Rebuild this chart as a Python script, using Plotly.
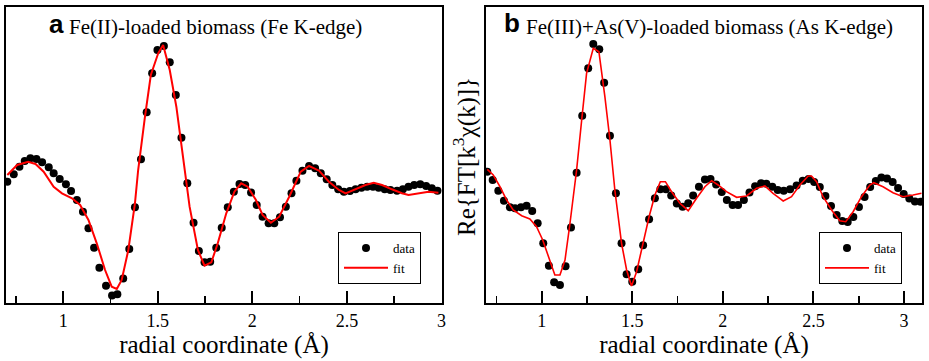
import plotly.graph_objects as go

# ---------------- Panel a: Fe(II)-loaded biomass (Fe K-edge) ----------------
a_data_r = [0.704, 0.738, 0.768, 0.796, 0.826, 0.858, 0.888, 0.923, 0.949, 0.981,
            1.014, 1.041, 1.072, 1.104, 1.133, 1.163, 1.191, 1.226, 1.258, 1.286,
            1.317, 1.349, 1.379, 1.411, 1.441, 1.470, 1.498, 1.532, 1.563, 1.595,
            1.625, 1.656, 1.689, 1.717, 1.747, 1.777, 1.809, 1.838, 1.870, 1.902,
            1.932, 1.962, 1.993, 2.023, 2.054, 2.086, 2.116, 2.146, 2.177, 2.207,
            2.233, 2.265, 2.300, 2.332, 2.362, 2.393, 2.423, 2.454, 2.484, 2.516,
            2.546, 2.577, 2.607, 2.638, 2.668, 2.700, 2.730, 2.765, 2.796, 2.826,
            2.856, 2.888, 2.919, 2.949, 2.979]
a_data_v = [0.063, 0.137, 0.213, 0.270, 0.297, 0.290, 0.257, 0.207, 0.147, 0.090,
            0.037, -0.030, -0.120, -0.237, -0.403, -0.597, -0.797, -0.977, -1.075, -1.063,
            -0.905, -0.610, -0.193, 0.288, 0.757, 1.147, 1.380, 1.420, 1.257, 0.930,
            0.503, 0.047, -0.347, -0.630, -0.743, -0.737, -0.597, -0.397, -0.193, -0.037,
            0.040, 0.030, -0.045, -0.170, -0.287, -0.353, -0.353, -0.293, -0.187, -0.053,
            0.073, 0.173, 0.220, 0.197, 0.147, 0.087, 0.030, -0.013, -0.037, -0.030,
            -0.013, 0.003, 0.013, 0.013, 0.003, -0.013, -0.020, -0.027, -0.013, 0.013,
            0.030, 0.037, 0.020, -0.003, -0.027]

a_fit_r = [0.704, 0.756, 0.814, 0.853, 0.896, 0.949, 0.993, 1.046, 1.089, 1.133,
           1.177, 1.221, 1.256, 1.283, 1.309, 1.344, 1.379, 1.396, 1.432, 1.463,
           1.502, 1.528, 1.563, 1.598, 1.633, 1.668, 1.712, 1.747, 1.783, 1.817,
           1.862, 1.905, 1.941, 1.975, 2.019, 2.054, 2.098, 2.142, 2.195, 2.256,
           2.300, 2.353, 2.405, 2.458, 2.493, 2.546, 2.598, 2.642, 2.686, 2.738,
           2.791, 2.826, 2.879, 2.932, 2.984]
a_fit_v = [0.130, 0.230, 0.263, 0.240, 0.163, 0.013, -0.053, -0.103, -0.170, -0.320,
           -0.553, -0.820, -0.987, -1.010, -0.920, -0.620, -0.153, 0.180, 0.713, 1.130,
           1.347, 1.430, 1.180, 0.813, 0.313, -0.187, -0.620, -0.777, -0.743, -0.553,
           -0.253, -0.037, 0.047, 0.013, -0.120, -0.270, -0.347, -0.287, -0.087, 0.163,
           0.220, 0.173, 0.063, -0.020, -0.053, -0.013, 0.030, 0.053, 0.030, -0.013,
           -0.053, -0.070, -0.053, -0.037, -0.047]

# ---------------- Panel b: Fe(III)+As(V)-loaded biomass (As K-edge) ----------------
b_data_r = [0.700, 0.730, 0.761, 0.792, 0.825, 0.853, 0.886, 0.917, 0.948, 0.978,
            1.009, 1.040, 1.069, 1.101, 1.132, 1.162, 1.193, 1.224, 1.257, 1.285,
            1.318, 1.345, 1.377, 1.410, 1.441, 1.469, 1.500, 1.533, 1.560, 1.593,
            1.625, 1.655, 1.686, 1.715, 1.746, 1.778, 1.809, 1.836, 1.868, 1.901,
            1.932, 1.963, 1.994, 2.022, 2.054, 2.084, 2.116, 2.147, 2.178, 2.211,
            2.240, 2.273, 2.303, 2.336, 2.371, 2.407, 2.441, 2.473, 2.504, 2.535,
            2.566, 2.597, 2.628, 2.659, 2.689, 2.720, 2.751, 2.782, 2.813, 2.844,
            2.875, 2.906, 2.937, 2.967, 2.998, 3.029, 3.060, 3.091]
b_data_v = [0.163, 0.080, -0.027, -0.127, -0.193, -0.203, -0.193, -0.177, -0.230, -0.353,
            -0.553, -0.777, -0.943, -0.970, -0.783, -0.395, 0.153, 0.723, 1.197, 1.440,
            1.387, 1.053, 0.523, -0.053, -0.553, -0.863, -0.937, -0.813, -0.573, -0.312,
            -0.103, -0.013, -0.013, -0.075, -0.155, -0.187, -0.153, -0.075, 0.013, 0.085,
            0.090, 0.035, -0.040, -0.120, -0.170, -0.170, -0.120, -0.045, 0.017, 0.047,
            0.043, 0.013, -0.020, -0.027, -0.013, 0.025, 0.072, 0.090, 0.060, 0.010,
            -0.080, -0.180, -0.270, -0.330, -0.340, -0.290, -0.190, -0.090, 0.010, 0.070,
            0.105, 0.095, 0.060, 0.000, -0.060, -0.105, -0.135, -0.137]

b_fit_r = [0.700, 0.733, 0.770, 0.807, 0.843, 0.890, 0.935, 0.972, 1.006, 1.036,
           1.073, 1.101, 1.129, 1.156, 1.193, 1.221, 1.248, 1.285, 1.316, 1.349,
           1.377, 1.404, 1.441, 1.469, 1.496, 1.524, 1.560, 1.593, 1.625, 1.655,
           1.683, 1.717, 1.763, 1.809, 1.855, 1.901, 1.938, 1.974, 2.020, 2.076,
           2.131, 2.186, 2.232, 2.277, 2.314, 2.333, 2.379, 2.425, 2.471, 2.489,
           2.517, 2.553, 2.600, 2.645, 2.678, 2.719, 2.765, 2.811, 2.833, 2.884,
           2.939, 2.994, 3.050, 3.096]
b_fit_v = [0.187, 0.130, 0.013, -0.120, -0.220, -0.277, -0.310, -0.387, -0.520, -0.687,
           -0.870, -0.870, -0.720, -0.360, 0.180, 0.680, 1.147, 1.397, 1.363, 0.913,
           0.480, -0.020, -0.553, -0.820, -0.980, -0.837, -0.553, -0.287, -0.070, 0.063,
           0.063, -0.037, -0.153, -0.227, -0.103, 0.013, 0.073, 0.030, -0.037, -0.093,
           -0.080, -0.003, 0.020, -0.053, -0.103, -0.130, -0.087, 0.030, 0.120, 0.120,
           0.063, -0.087, -0.220, -0.327, -0.337, -0.237, -0.087, 0.030, 0.053, 0.013,
           -0.047, -0.087, -0.070, -0.053]

x_tick_vals = [1, 1.5, 2, 2.5, 3]
x_tick_text = ["1", "1.5", "2", "2.5", "3"]

W, H = 929, 361
SERIF = "Liberation Serif"

fig = go.Figure()
fig.add_trace(go.Scatter(x=a_data_r, y=a_data_v, mode="markers", name="data",
                         marker=dict(color="black", size=8), xaxis="x", yaxis="y",
                         legend="legend"))
fig.add_trace(go.Scatter(x=a_fit_r, y=a_fit_v, mode="lines", name="fit",
                         line=dict(color="#ff0000", width=2), xaxis="x", yaxis="y",
                         legend="legend"))
fig.add_trace(go.Scatter(x=b_data_r, y=b_data_v, mode="markers", name="data",
                         marker=dict(color="black", size=8), xaxis="x2", yaxis="y2",
                         legend="legend2"))
fig.add_trace(go.Scatter(x=b_fit_r, y=b_fit_v, mode="lines", name="fit",
                         line=dict(color="#ff0000", width=1.6), xaxis="x2", yaxis="y2",
                         legend="legend2"))

ydom = [1 - 303 / H, 1 - 7 / H]


def xaxis_style(dom, rng, anchor):
    return dict(domain=dom, range=rng, anchor=anchor, showgrid=False, zeroline=False,
                showline=True, linecolor="black", linewidth=2, mirror=True,
                ticks="inside", ticklen=12, tickwidth=2, tickcolor="black",
                tickvals=x_tick_vals, ticktext=x_tick_text,
                tickfont=dict(family=SERIF, size=18, color="black"),
                minor=dict(dtick=0.25, tick0=0, ticks="inside", ticklen=7, tickwidth=1.5,
                           tickcolor="black", showgrid=False),
                title=dict(text="radial coordinate (Å)",
                           font=dict(family=SERIF, size=25, color="black"), standoff=4),
                automargin=False, fixedrange=True)


def yaxis_style(anchor):
    return dict(domain=ydom, range=[-1.15, 1.81], anchor=anchor, showgrid=False,
                zeroline=False, showline=True, linecolor="black", linewidth=2, mirror=True,
                ticks="", showticklabels=False, automargin=False, fixedrange=True)


legend_common = dict(xanchor="left", yanchor="top", bordercolor="black", borderwidth=1,
                     bgcolor="white", font=dict(family=SERIF, size=13, color="black"),
                     itemwidth=44, tracegroupgap=0)

fig.update_layout(
    width=W, height=H,
    margin=dict(l=0, r=0, t=0, b=0, pad=0),
    paper_bgcolor="white", plot_bgcolor="white",
    xaxis=xaxis_style([6 / W, 442 / W], [0.697, 3.003], "y"),
    yaxis=yaxis_style("x"),
    xaxis2=xaxis_style([486 / W, 922 / W], [0.693, 3.099], "y2"),
    yaxis2=yaxis_style("x2"),
    showlegend=True,
    legend=dict(x=338 / W, y=1 - 232 / H, **legend_common),
    legend2=dict(x=819 / W, y=1 - 232 / H, **legend_common),
    annotations=[
        dict(text="<b>a</b>", x=47 / W, y=1 - 24 / H, xref="paper", yref="paper",
             xanchor="left", yanchor="middle", showarrow=False,
             font=dict(family="Liberation Sans", size=26, color="black")),
        dict(text="Fe(II)-loaded biomass (Fe K-edge)", x=67 / W, y=1 - 27 / H,
             xref="paper", yref="paper", xanchor="left", yanchor="middle", showarrow=False,
             font=dict(family=SERIF, size=21, color="black")),
        dict(text="<b>b</b>", x=502 / W, y=1 - 23 / H, xref="paper", yref="paper",
             xanchor="left", yanchor="middle", showarrow=False,
             font=dict(family="Liberation Sans", size=26, color="black")),
        dict(text="Fe(III)+As(V)-loaded biomass (As K-edge)", x=524 / W, y=1 - 27 / H,
             xref="paper", yref="paper", xanchor="left", yanchor="middle", showarrow=False,
             font=dict(family=SERIF, size=21, color="black")),
        dict(text="Re{FT[k<sup>3</sup>χ(k)]}", x=464 / W, y=1 - 157 / H,
             xref="paper", yref="paper", xanchor="center", yanchor="middle",
             showarrow=False, textangle=-90,
             font=dict(family=SERIF, size=25, color="black")),
    ],
)

fig.write_html("out.html",
               config={"displayModeBar": False, "staticPlot": True},
               post_script="document.body.style.margin='0';document.body.style.overflow='hidden';")
